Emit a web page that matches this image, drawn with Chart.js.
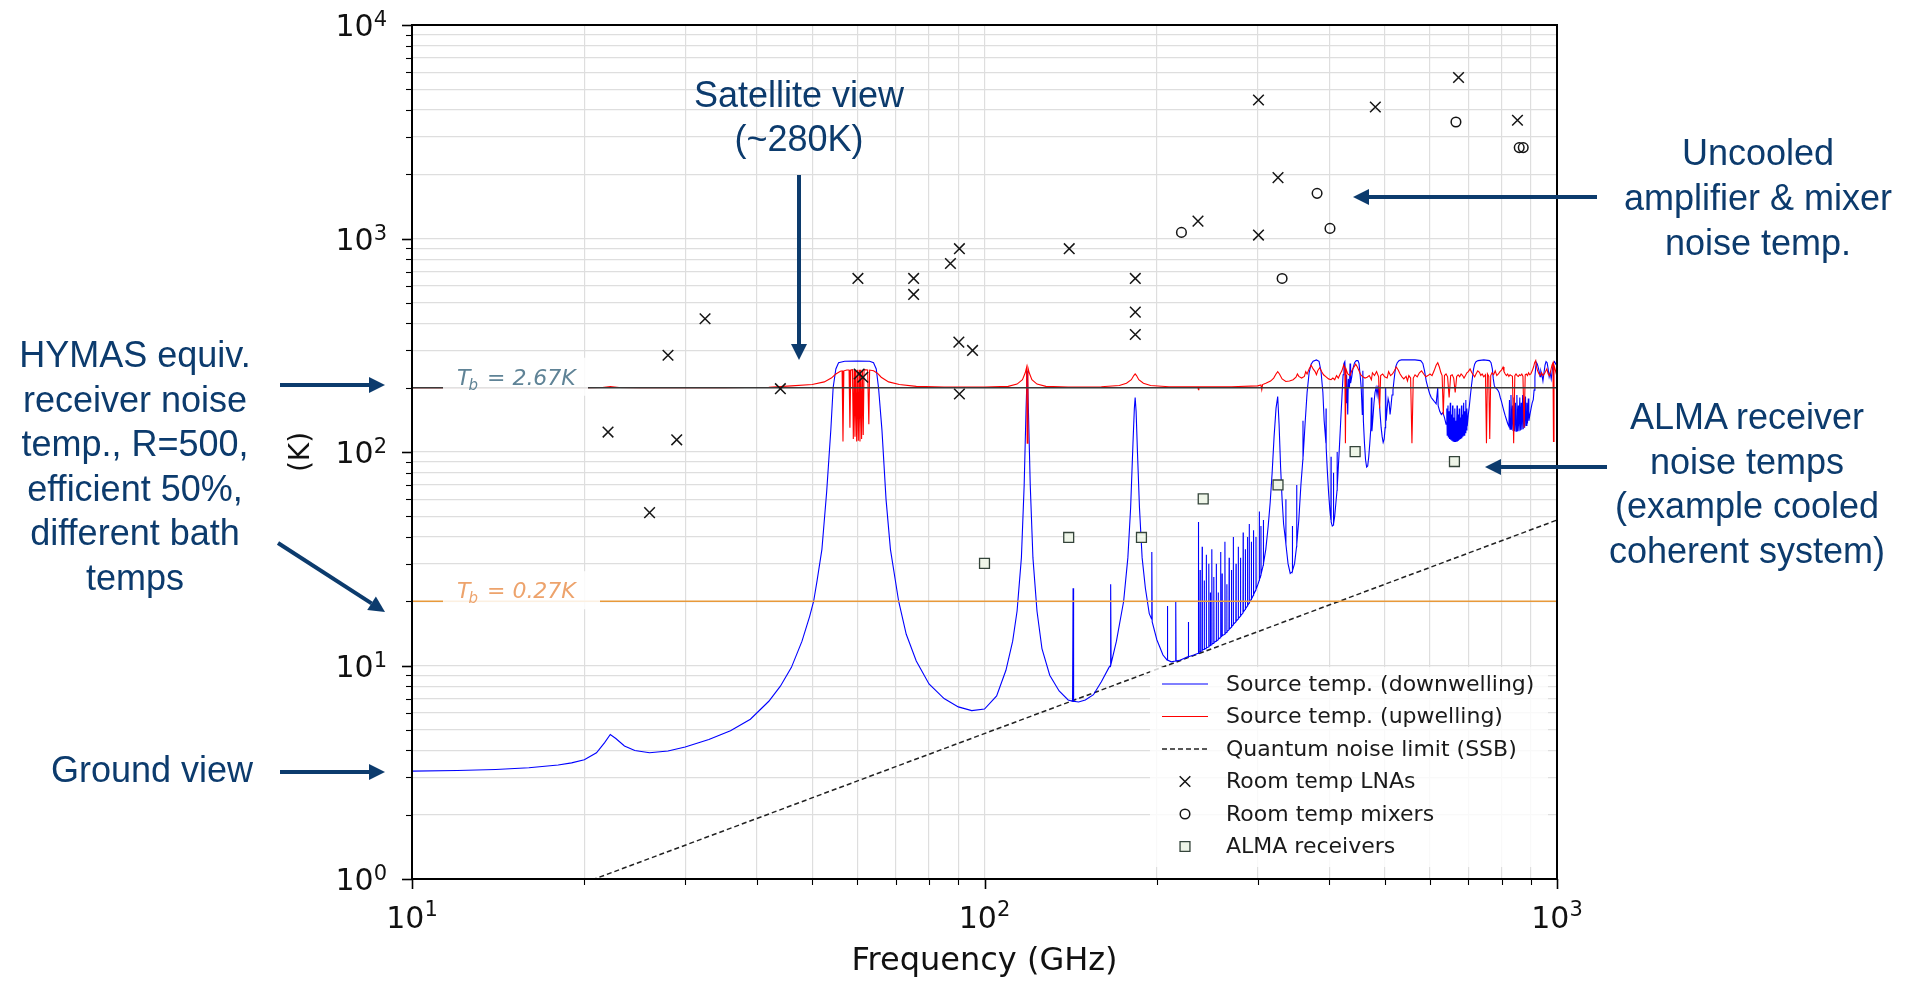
<!DOCTYPE html>
<html><head><meta charset="utf-8">
<script src="https://cdn.jsdelivr.net/npm/chart.js@4.4.0/dist/chart.umd.min.js"></script>
<style>
html,body{margin:0;padding:0;background:#fff;overflow:hidden}
#wrap{position:relative;width:1905px;height:981px}
canvas{position:absolute;left:0;top:0}
.note{position:absolute;font-family:'Liberation Sans',Arial,sans-serif;font-size:36px;line-height:45px;color:#0c3b6d;text-align:center;white-space:nowrap}
</style></head><body>
<div id="wrap">
<canvas id="c" width="1905" height="981"></canvas>
<div class="note" style="left:0;top:333px;width:270px;line-height:44.5px">HYMAS equiv.<br>receiver noise<br>temp., R=500,<br>efficient 50%,<br>different bath<br>temps</div>
<div class="note" style="left:22px;top:747px;width:260px">Ground view</div>
<div class="note" style="left:649px;top:73px;width:300px;line-height:44px">Satellite view<br>(~280K)</div>
<div class="note" style="left:1598px;top:130px;width:320px">Uncooled<br>amplifier &amp; mixer<br>noise temp.</div>
<div class="note" style="left:1587px;top:395px;width:320px;line-height:44.5px">ALMA receiver<br>noise temps<br>(example cooled<br>coherent system)</div>
</div>
<script>
// ---------- DATA ----------
const xTickValues = [10,20,30,40,50,60,70,80,90,100,200,300,400,500,600,700,800,900,1000];
const yTickValues = [1,2,3,4,5,6,7,8,9,10,20,30,40,50,60,70,80,90,100,200,300,400,500,600,700,800,900,1000,2000,3000,4000,5000,6000,7000,8000,9000,10000];
const xDecadeValues = [10,100,1000];
const xDecadeExponents = ['1','2','3'];
const yDecadeValues = [1,10,100,1000,10000];
const yDecadeExponents = ['0','1','2','3','4'];

const bathTemps = [200, 20];            // receiver noise temp lines (K)
const bathLabels = ['2.67', '0.27'];    // T_b values

const quantumLimit = [[10,0.48],[1000,48]];

const roomTempLNAs = [[22,124],[26,52],[28,284],[29,114],[32.5,421],[44,198],[60.4,232],[61.3,224],[60.1,650],[75.2,650],[75.2,547],[87.2,764],[90.4,896],[90.2,327],[95.3,299],[90.4,187],[140.6,896],[183.4,650],[183.4,452],[183.4,355],[236,1206],[301,4455],[301,1038],[325.6,1928],[481.6,4130],[673,5675],[853,3579]];
const roomTempMixers = [[220.8,1068],[331,650],[381,1627],[401.3,1115],[666,3514],[859,2665],[873,2665]];
const almaReceivers = [[100,30.1],[140.3,39.8],[188,39.8],[241,60.3],[325.6,70.1],[444,100.4],[662,90.2]];

const downwelling = [
[10,3.2],[12,3.22],[14,3.26],[16,3.32],[18,3.42],[19,3.5],[20,3.62],[21,3.9],[21.7,4.35],[22.2,4.75],[22.7,4.55],[23.5,4.2],[24.5,4.0],[26,3.9],[28,3.98],[30,4.15],[33,4.5],[36,4.95],[39,5.6],[42,6.8],[44,8.0],[46,9.8],[48,13],[49.5,17],[50.3,20],[51,25],[52,35],[53,65],[53.9,127],[54.4,200],[55,245],[55.6,262],[57,266],[60,267],[63,266],[64,262],[64.7,245],[65.3,200],[66.2,127],[67.3,60],[68.5,35],[70.8,20],[73,14],[76,10.5],[80,8.2],[85,7],[90,6.4],[95,6.15],[100,6.25],[105,7.2],[109,9.5],[112,13],[114,18],[116,32],[117.3,70],[118.2,160],[118.75,240],[119.3,160],[120.2,70],[121.5,32],[123.5,18],[126,12],[130,9],[135,7.6],[140,6.9],[142.5,6.8],[142.8,23],[143.1,6.8],[146,6.75],[150,6.9],[155,7.3],[160,8.4],[165,9.8],[165.9,10],[166.1,24],[166.4,10.2],[170,13],[175,20],[178,32],[180,55],[181.7,110],[182.7,160],[183.3,180],[184,155],[185,100],[186.5,55],[188.5,32],[191,23],[194,17.5],[195.8,16.5],[196,34],[196.3,16],[200,13.2],[205,11.2],[208.5,10.6],[208.7,19],[208.9,10.6],[212,10.4],[215.5,10.5],[215.8,20],[216.1,10.5],[220,10.6],[226.8,11],[227,16],[227.3,11],[232,11.2],
[236.2,11.4],[236.4,47],[236.6,11.5],[237.8,11.6],[238,28],[238.2,11.6],[239.8,11.7],[240,36],[240.2,11.8],[241.8,11.9],[242,25],[242.2,12],[243.8,12],[244,33],[244.2,12.1],[246.3,12.2],[246.5,30],[246.7,12.3],[247.8,12.4],[248,22],[248.2,12.4],[249.3,12.5],[249.5,35],[249.7,12.6],[251.3,12.7],[251.5,26],[251.7,12.8],[253.8,13],[254,30],[254.2,13],[255.8,13.2],[256,22],[256.2,13.3],[258.3,13.5],[258.5,34],[258.7,13.6],[259.8,13.7],[260,27],[260.2,13.8],[262.8,14],[263,38],[263.2,14.1],[264.8,14.3],[265,24],[265.2,14.4],[267.3,14.7],[267.5,32],[267.7,14.8],[269.8,15.1],[270,28],[270.2,15.2],[271.8,15.5],[272,40],[272.2,15.6],[274.8,16],[275,30],[275.2,16.1],[277.3,16.5],[277.5,36],[277.7,16.6],[279.8,17],[280,32],[280.2,17.1],[282.8,17.6],[283,42],[283.2,17.8],[285.3,18.3],[285.5,35],[285.7,18.4],[287.8,19],[288,40],[288.2,19.1],[289.8,19.6],[290,46],[290.2,19.7],[292.3,20.4],[292.5,38],[292.7,20.5],[294.8,21.3],[295,43],[295.2,21.5],[297.8,22.6],[298,40],[298.2,22.8],[300,23.8],[301.8,25],[302,52.7],[302.2,25.2],[303.8,26.5],[304,45],[304.2,26.8],[306.8,29.5],[307,48],[307.2,30],[310,35],[313,45],[315.5,58],[318,80],[320.5,118],[323,160],[325.2,182],[327,135],[329,85],[331,60],[333,46],[335.8,38],[336,60],[336.2,37],[339,30],[342,27],[344.8,27.5],[345,45],[345.2,27.8],[348,30],[350.8,36],[351,70],[351.2,37],[354,48],[357,70],[359.8,92],[360,140],[360.2,95],[363,135],[366,190],[369,235],[372,258],[375,266],[380,270],[384,266],[387,240],[390,190],[392,140],[394.8,110],[395,160],[395.2,105],[397,82],[399,65],[401,54],[402.8,48],[403,95],[403.2,47],[405,45],[406.8,45.5],[407,80],[407.2,46],[409,50],[411,58],[412.8,66],[413,100],[413.2,68],[415,85],[417,108],[419,140],[421,180],[423,230],[424.5,260],[426,265],[427.5,220],[428.5,170],[429,230],[430,190],[431,150],[432,220],[434,200],[435,260],[436,210],[438,225],[440,245],[443,262],[446,268],[449,268],[451,260],[453,230],[455,200],[457,150],[458,240],[459,140],[461,110],[463,92],[465,85],[467,86],[469,95],[471,110],[473,130],[474,180],[475,125],[477,145],[479,170],[481,190],[483,200],[485,185],[487,205],[489,175],[491,150],[493,130],[495,118],[497,111],[499,115],[501,130],[502,200],[503,140],[505,160],[507,178],[509,170],[511,150],[513,165],[515,185],[517,195],[519,215],[521,235],[523,252],[526,262],[530,268],[535,270],[550,270],[565,270],[578,268],[583,260],[587,240],[591,215],[595,200],[599,188],[603,180],[607,176],[611,172],[615,168],[619,200],[620,165],[624,155],[628,150],[632,153],[636,145],[640,135],
[642,160],[643,120],[645,165],[646,117],[648,155],[649,115],[651,170],[652,114],[654,150],[655,113],[657,165],[658,112],[660,145],[661,112],[663,160],[664,112],[666,140],[667,112],[669,165],[670,112],[672,150],[673,113],[675,160],[676,114],[678,145],[679,115],[681,165],[682,116],[684,150],[685,118],[687,170],[688,120],[690,155],[691,123],[693,175],[694,127],[696,160],[697,132],[700,150],[703,165],[706,185],[709,205],[712,225],[715,245],[718,258],[722,265],[728,268],[745,270],[762,268],[767,262],[771,245],[774,220],[777,205],[780,200],[784,198],[788,195],[792,190],[796,180],[800,172],[804,163],[808,155],[812,148],[816,142],[820,136],[824,132],
[826,175],[828,128],[831,185],[833,127],[836,165],[838,126],[841,180],[843,125],[846,170],[848,125],[851,185],[853,125],[856,165],[858,125],[861,180],[863,126],[866,170],[868,127],[871,185],[873,128],[876,168],[878,130],[881,182],[883,133],[886,170],[888,136],[891,178],[893,140],[897,150],[901,160],[905,170],[909,176],[912,195],[915,225],[918,250],[921,262],[924,258],[927,250],[931,238],[934,225],[937,240],[941,230],[945,215],[949,235],[953,255],[957,265],[961,262],[965,245],[969,225],[973,235],[977,220],[981,240],[985,260],[990,265],[995,258],[1000,262]
];

const upwelling = [
[10,200],[20,200],[21.5,200.5],[22.2,202.5],[23,200.5],[25,200],[35,200],[42,201],[46,204],[50,207],[52.5,213],[54,222],[55,232],[56,239],[56.4,240],[56.6,112],[56.8,240],[57.5,242],[58.0,242],[58.2,130],[58.4,242],[58.8,243],[59.0,115],[59.2,243],[59.4,118],[59.6,243],[59.8,112],[60.0,243],[60.2,113],[60.4,243],[60.6,112],[60.8,243],[61.0,115],[61.2,243],[61.4,120],[61.6,243],[62.5,242],[62.8,135],[63,242],[64,240],[65,234],[66,224],[68,213],[71,207],[76,203],[85,201.5],[100,201.5],[110,203],[114,208],[116.5,218],[117.8,235],[118.4,248],[118.75,110],[119.1,248],[119.7,235],[121,218],[123.5,208],[128,203],[140,201.5],[160,202],[172,205],[177,210],[180.5,218],[182.3,228],[183.3,232],[184.3,228],[186,218],[189.5,210],[195,205],[210,202],[236,202],[236.4,196],[236.8,202],[270,202],[300,204],[304,206],[305,196],[306,207],[310,210],[316,215],[320,222],[323,232],[325.2,238],[327.5,232],[331,220],[336,214],[341,215],[346,218],[350,224],[352,232],[354,226],[358,222],[362,226],[364,238],[366,232],[369,245],[372,255],[375,245],[378,238],[380,230],[382,240],[385,248],[388,238],[391,230],[395,225],[399,220],[403,218],[406,222],[409,218],[412,228],[415,222],[418,232],[421,240],[424,255],[426,245],[427,110],[428,245],[431,232],[435,228],[438,240],[442,250],[445,258],[448,250],[451,240],[454,230],[458,225],[462,222],[466,224],[470,228],[474,218],[476,235],[480,228],[484,238],[488,225],[490,160],[492,228],[496,232],[500,225],[505,222],[508,238],[512,228],[516,232],[520,240],[524,250],[528,242],[532,232],[536,225],[540,220],[545,226],[548,215],[551,228],[555,222],[558,110],[561,222],[565,230],[570,225],[575,235],[580,240],[585,232],[590,225],[595,228],[600,232],[605,228],[610,240],[615,255],[619,262],[623,250],[627,235],[630,228],[633,150],[636,228],[640,232],[644,225],[648,180],[652,228],[656,230],[660,222],[664,190],[668,226],[672,230],[676,225],[680,232],[684,228],[688,222],[692,228],[696,235],[700,238],[705,245],[710,235],[714,230],[718,225],[722,232],[727,240],[732,236],[736,228],[740,232],[745,225],[750,230],[753,110],[756,232],[760,226],[763,115],[766,228],[770,235],[775,230],[780,240],[785,228],[790,232],[795,238],[800,242],[805,250],[808,238],[812,232],[816,228],[820,232],[824,226],[828,230],[832,228],[836,226],[840,110],[844,228],[848,232],[852,228],[856,226],[860,230],[864,228],[868,232],[872,226],[876,130],[880,230],[884,232],[888,228],[892,235],[896,230],[900,232],[905,240],[910,250],[914,262],[918,268],[921,250],[925,240],[930,232],[935,228],[940,235],[945,228],[950,232],[955,238],[960,245],[965,232],[970,228],[975,240],[980,255],[984,262],[986,112],[988,255],[992,245],[996,235],[1000,250]
];

// ---------- helpers ----------
const toXY = arr => arr.map(p => ({x: p[0], y: p[1]}));
const NAVY = '#0c3b6d';
const FONT = '"DejaVu Sans", sans-serif';

function arrow(ctx, x1, y1, x2, y2) {
  const a = Math.atan2(y2 - y1, x2 - x1), hl = 16, hw = 8;
  const c = Math.cos(a), s = Math.sin(a);
  ctx.save();
  ctx.strokeStyle = NAVY; ctx.fillStyle = NAVY; ctx.lineWidth = 4;
  ctx.beginPath(); ctx.moveTo(x1, y1); ctx.lineTo(x2 - c * hl, y2 - s * hl); ctx.stroke();
  ctx.beginPath(); ctx.moveTo(x2, y2);
  ctx.lineTo(x2 - c * hl - s * hw, y2 - s * hl + c * hw);
  ctx.lineTo(x2 - c * hl + s * hw, y2 - s * hl - c * hw);
  ctx.closePath(); ctx.fill();
  ctx.restore();
}

function drawMarker(ctx, style, x, y, ds) {
  ctx.save();
  ctx.lineWidth = ds.borderWidth; ctx.strokeStyle = ds.borderColor; ctx.fillStyle = ds.backgroundColor;
  ctx.beginPath();
  if (style === 'crossRot') {
    const r = ds.pointRadius * Math.SQRT1_2;
    ctx.moveTo(x - r, y - r); ctx.lineTo(x + r, y + r);
    ctx.moveTo(x + r, y - r); ctx.lineTo(x - r, y + r);
    ctx.stroke();
  } else if (style === 'circle') {
    ctx.arc(x, y, ds.pointRadius, 0, Math.PI * 2); ctx.fill(); ctx.stroke();
  } else {
    const h = ds.pointRadius * Math.SQRT1_2;
    ctx.rect(x - h, y - h, 2 * h, 2 * h); ctx.fill(); ctx.stroke();
  }
  ctx.restore();
}

function tbLabel(ctx, x, yb, val, color) {
  ctx.save();
  ctx.fillStyle = color; ctx.textBaseline = 'alphabetic'; ctx.textAlign = 'left';
  ctx.font = 'italic 22px ' + FONT;
  ctx.fillText('T', x, yb);
  let w = ctx.measureText('T').width;
  ctx.font = 'italic 15px ' + FONT;
  ctx.fillText('b', x + w - 2, yb + 5);
  w += ctx.measureText('b').width;
  ctx.font = 'italic 22px ' + FONT;
  ctx.fillText(' = ' + val + 'K', x + w, yb);
  ctx.restore();
}

const MAIN_FONT = '30px ' + FONT, SUP_FONT = '21px ' + FONT;

const decor = {
  id: 'decor',
  afterDatasetsDraw(chart) {
    const {ctx, scales: {y}} = chart;
    const colors = ['#5f8396', '#eda36c'];
    const boxRight = [588, 600];
    bathTemps.forEach((t, i) => {
      const py = y.getPixelForValue(t);
      ctx.save();
      ctx.fillStyle = 'rgba(255,255,255,0.85)';
      ctx.fillRect(443, py - 30, boxRight[i] - 443, 38);
      ctx.restore();
      tbLabel(ctx, 457, py - 3, bathLabels[i], colors[i]);
    });
  },
  afterDraw(chart) {
    const {ctx, chartArea: a, scales: {x, y}} = chart;
    // tick marks
    ctx.save();
    ctx.strokeStyle = '#000';
    xTickValues.forEach(v => {
      const px = Math.round(x.getPixelForValue(v)) + 0.5;
      const major = xDecadeValues.includes(v);
      ctx.lineWidth = major ? 1.6 : 1.1;
      ctx.beginPath(); ctx.moveTo(px, a.bottom); ctx.lineTo(px, a.bottom + (major ? 10 : 6)); ctx.stroke();
    });
    yTickValues.forEach(v => {
      const py = Math.round(y.getPixelForValue(v)) + 0.5;
      const major = yDecadeValues.includes(v);
      ctx.lineWidth = major ? 1.6 : 1.1;
      ctx.beginPath(); ctx.moveTo(a.left - (major ? 10 : 6), py); ctx.lineTo(a.left, py); ctx.stroke();
    });
    ctx.lineWidth = 2;
    ctx.strokeRect(a.left, a.top, a.right - a.left, a.bottom - a.top);

    // tick labels 10^n
    ctx.fillStyle = '#111'; ctx.textBaseline = 'alphabetic';
    xDecadeValues.forEach((v, i) => {
      const px = x.getPixelForValue(v);
      ctx.font = MAIN_FONT; const w1 = ctx.measureText('10').width;
      ctx.font = SUP_FONT; const w2 = ctx.measureText(xDecadeExponents[i]).width;
      const x0 = px - (w1 + w2) / 2;
      ctx.textAlign = 'left';
      ctx.font = MAIN_FONT; ctx.fillText('10', x0, a.bottom + 49);
      ctx.font = SUP_FONT; ctx.fillText(xDecadeExponents[i], x0 + w1, a.bottom + 37);
    });
    yDecadeValues.forEach((v, i) => {
      const py = y.getPixelForValue(v);
      ctx.font = SUP_FONT; const w2 = ctx.measureText(yDecadeExponents[i]).width;
      ctx.textAlign = 'right';
      ctx.fillText(yDecadeExponents[i], a.left - 25, py + 1);
      ctx.font = MAIN_FONT; ctx.fillText('10', a.left - 25 - w2, py + 11);
    });
    ctx.restore();

    // legend
    const order = [4, 3, 5, 0, 1, 2];
    const lx = 1150, ly = 667, lw = 398, lh = 200;
    ctx.save();
    ctx.fillStyle = 'rgba(255,255,255,0.8)';
    ctx.beginPath();
    if (ctx.roundRect) ctx.roundRect(lx, ly, lw, lh, 4); else ctx.rect(lx, ly, lw, lh);
    ctx.fill();
    ctx.font = '22px ' + FONT; ctx.fillStyle = '#1a1a1a'; ctx.textBaseline = 'middle'; ctx.textAlign = 'left';
    order.forEach((di, k) => {
      const ds = chart.data.datasets[di];
      const ry = 684 + k * 32.5;
      if (ds.showLine) {
        ctx.save();
        ctx.strokeStyle = ds.borderColor; ctx.lineWidth = ds.borderWidth;
        ctx.setLineDash(ds.borderDash || []);
        ctx.beginPath(); ctx.moveTo(1162, ry); ctx.lineTo(1208, ry); ctx.stroke();
        ctx.restore();
      } else {
        drawMarker(ctx, ds.pointStyle, 1185, ry, ds);
      }
      ctx.fillText(ds.label, 1226, ry + 1);
    });
    ctx.restore();

    // annotation arrows
    arrow(ctx, 799, 175, 799, 360);
    arrow(ctx, 1597, 197, 1353, 197);
    arrow(ctx, 1607, 467, 1485, 467);
    arrow(ctx, 280, 385, 385, 385);
    arrow(ctx, 278, 543, 385, 612);
    arrow(ctx, 280, 772, 385, 772);
  }
};

const lineDs = (label, data, color, width, order, dash) => ({
  label, data: toXY(data), showLine: true, borderColor: color, backgroundColor: color,
  borderWidth: width, pointRadius: 0, pointHoverRadius: 0, tension: 0, order, borderDash: dash || []
});

new Chart(document.getElementById('c'), {
  type: 'scatter',
  data: {
    datasets: [
      {label: 'Room temp LNAs', data: toXY(roomTempLNAs), pointStyle: 'crossRot', pointRadius: 7.5, borderColor: '#151515', backgroundColor: '#151515', borderWidth: 1.5, order: 0},
      {label: 'Room temp mixers', data: toXY(roomTempMixers), pointStyle: 'circle', pointRadius: 4.8, borderColor: '#151515', backgroundColor: 'rgba(255,255,255,0)', borderWidth: 1.5, order: 0},
      {label: 'ALMA receivers', data: toXY(almaReceivers), pointStyle: 'rect', pointRadius: 7, borderColor: '#34443a', backgroundColor: '#eef5e8', borderWidth: 1.3, order: 0},
      lineDs('Source temp. (upwelling)', upwelling, '#ff0000', 1.1, 2),
      lineDs('Source temp. (downwelling)', downwelling, '#0000ff', 1.1, 3),
      lineDs('Quantum noise limit (SSB)', quantumLimit, '#222222', 1.5, 4, [5, 3]),
      lineDs('T_b = 2.67K', [[10, bathTemps[0]], [1000, bathTemps[0]]], '#3a3a3a', 1.7, 1),
      lineDs('T_b = 0.27K', [[10, bathTemps[1]], [1000, bathTemps[1]]], '#e8993a', 1.6, 1)
    ]
  },
  options: {
    responsive: false, maintainAspectRatio: false, animation: false,
    layout: {padding: {left: 0, right: 348, top: 25, bottom: 0}},
    plugins: {legend: {display: false}, tooltip: {enabled: false}},
    events: [],
    scales: {
      x: {
        type: 'logarithmic', min: 10, max: 1000,
        afterBuildTicks: s => { s.ticks = xTickValues.map(v => ({value: v})); },
        afterFit: s => { s.height = 102; },
        grid: {color: '#dedede', lineWidth: 1.2, drawTicks: false},
        border: {display: false},
        ticks: {display: false, autoSkip: false},
        title: {display: true, text: 'Frequency (GHz)', color: '#111', font: {family: 'DejaVu Sans', size: 32}, padding: {top: 0, bottom: 0}}
      },
      y: {
        type: 'logarithmic', min: 1, max: 10000,
        afterBuildTicks: s => { s.ticks = yTickValues.map(v => ({value: v})); },
        afterFit: s => { s.width = 412; },
        grid: {color: '#dedede', lineWidth: 1.2, drawTicks: false},
        border: {display: false},
        ticks: {display: false, autoSkip: false},
        title: {display: true, text: '(K)', color: '#111', font: {family: 'DejaVu Sans', size: 28}, padding: {top: 285, bottom: 0}}
      }
    }
  },
  plugins: [decor]
});
</script>
</body></html>
